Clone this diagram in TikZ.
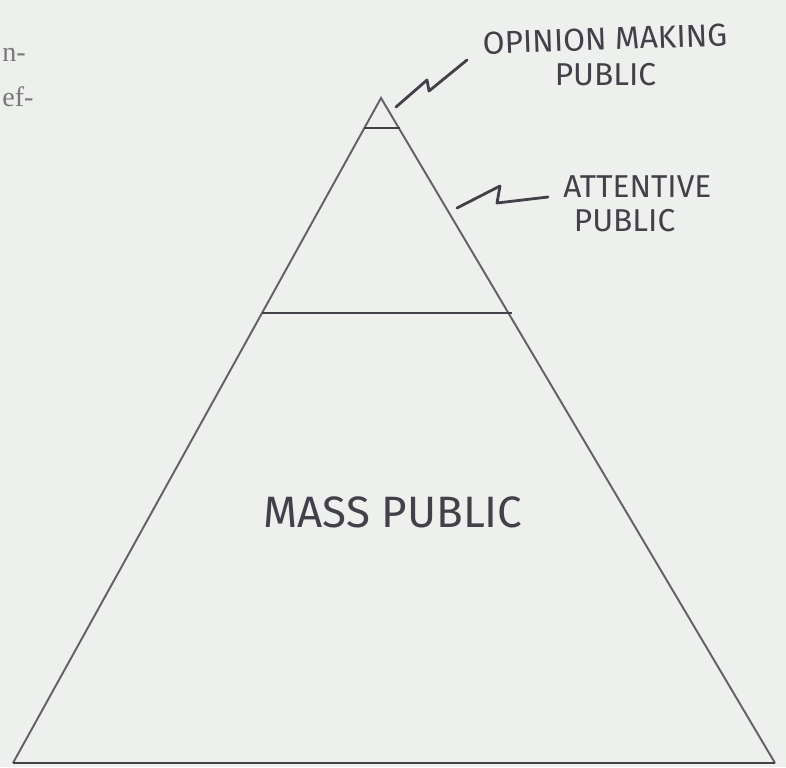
\documentclass[tikz,border=0pt]{standalone}
\usepackage{fontspec}
\newfontfamily\hand{Fira Sans}
\newfontfamily\book{Liberation Serif}
\usetikzlibrary{positioning}

\definecolor{paper}{RGB}{237,240,237}
\definecolor{ink}{RGB}{68,64,74}
\definecolor{pencil}{RGB}{100,96,106}
\definecolor{print}{RGB}{120,120,120}

\begin{document}
\begin{tikzpicture}[x=0.02cm, y=-0.02cm,
    hand/.style={text=ink, inner sep=0pt, font=\hand\fontsize{18}{19.5}\selectfont},
    frag/.style={anchor=west, text=print, inner sep=0pt, font=\book\fontsize{16}{18}\selectfont},
    side/.style={draw=pencil, line width=1.1pt, line join=miter},
    rung/.style={draw=ink, line width=1.6pt},
    zig/.style={draw=ink, line width=1.6pt, line cap=round, line join=round}]

    % 背景
    \fill[paper] (0,0) rectangle (786,767);
    \useasboundingbox (0,0) rectangle (786,767);

    % 本文の切れ端
    \node[frag] (frag1) at (2,55) {n-};
    \node[frag] (frag2) at (2,97) {ef-};

    % 三角形
    \coordinate (top) at (381,98);
    \coordinate (bl) at (13,763);
    \coordinate (br) at (775,763);
    \draw[side] (bl) -- (top) -- (br);
    \draw[rung] (bl) -- (br);

    % 区切り線
    \draw[rung] (364,128) -- (400,128);
    \draw[rung] (262,313) -- (512,313);

    % ラベル
    \node[hand, rotate=2] (opinion) at (605,39) {OPINION MAKING};
    \node[hand, below=7pt of opinion] (opub) {PUBLIC};
    \node[hand, align=left, anchor=west] (attentive) at (563,204) {ATTENTIVE\\\hspace*{6pt}PUBLIC};
    \node[hand, font=\hand\fontsize{25}{27}\selectfont] (mass) at (393,512) {MASS PUBLIC};

    % ジグザグ線
    \coordinate (op) at (467,60);
    \coordinate (at) at (548,197);
    \draw[zig] (396,107) -- (427,80) -- (429,91) -- (op);
    \draw[zig] (457,208) -- (500,186) -- (497,203) -- (at);

\end{tikzpicture}
\end{document}
